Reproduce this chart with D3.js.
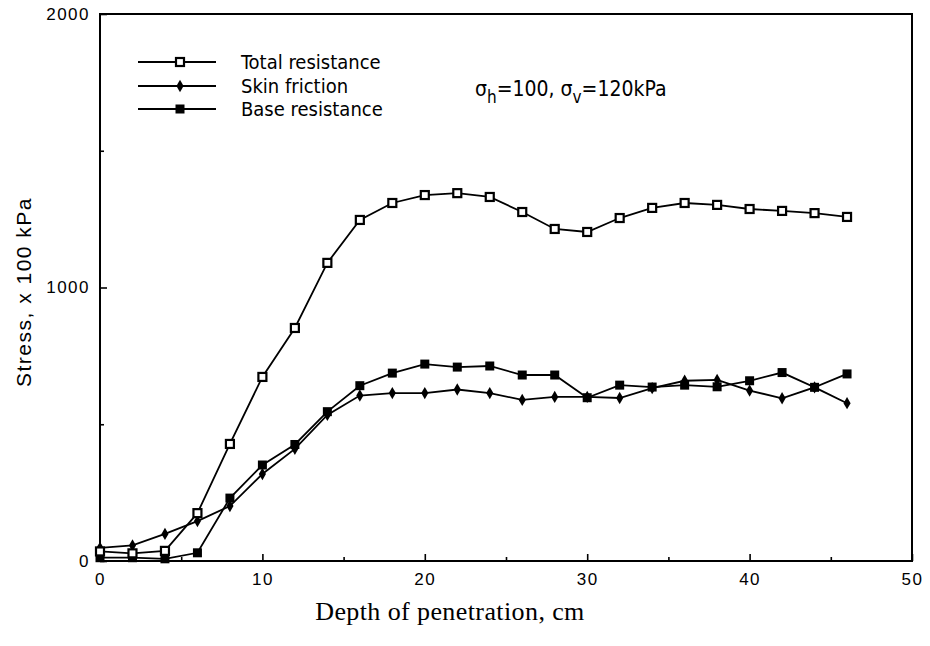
<!DOCTYPE html>
<html>
<head>
<meta charset="utf-8">
<script src="https://cdn.jsdelivr.net/npm/d3@7"></script>
<style>
  body { margin: 0; background: #fff; }
  svg { display: block; }
</style>
</head>
<body>
<div id="chart"></div>
<script>
// values
var depth = [0, 2, 4, 6, 8, 10, 12, 14, 16, 18, 20, 22, 24, 26, 28, 30, 32, 34, 36, 38, 40, 42, 44, 46];
var totalRes = [35, 28, 37, 175, 428, 673, 852, 1090, 1247, 1309, 1338, 1345, 1331, 1276, 1214, 1203, 1254, 1291, 1309, 1302, 1287, 1280, 1272, 1258];
var skinFric = [48, 57, 99, 146, 201, 318, 410, 534, 605, 614, 614, 627, 614, 589, 600, 600, 596, 632, 659, 662, 623, 595, 635, 577];
var baseRes = [12, 12, 8, 30, 230, 351, 426, 546, 641, 687, 720, 709, 713, 680, 680, 597, 643, 636, 643, 637, 659, 689, 635, 684];

var seriesNames = ['Total resistance', 'Skin friction', 'Base resistance'];
var xTicks = [0, 10, 20, 30, 40, 50];
var xMinor = [5, 15, 25, 35, 45];
var yTicks = [0, 1000, 2000];
var yMinor = [500, 1500];

var W = 930, H = 646;
var plotL = 100, plotR = 912, plotT = 14, plotB = 561;

var svg = d3.select('#chart').append('svg')
  .attr('width', W)
  .attr('height', H);

var x = d3.scaleLinear().domain([0, 50]).range([plotL, plotR]);
var y = d3.scaleLinear().domain([0, 2000]).range([plotB, plotT]);

var sans = 'Liberation Sans, Arial, Helvetica, sans-serif';
var narrow = 'Liberation Sans Narrow, DejaVu Sans Condensed, Arial Narrow, sans-serif';

// axes, ticks pointing inward
svg.append('g')
  .attr('transform', 'translate(0,' + plotB + ')')
  .call(d3.axisBottom(x).tickValues(xTicks).tickSizeInner(-7).tickSizeOuter(0).tickPadding(12).tickFormat(d3.format('d')));
svg.append('g')
  .attr('transform', 'translate(0,' + plotB + ')')
  .call(d3.axisBottom(x).tickValues(xMinor).tickSizeInner(-4).tickSizeOuter(0).tickFormat(''));

svg.append('g')
  .attr('transform', 'translate(' + plotL + ',0)')
  .call(d3.axisLeft(y).tickValues(yTicks).tickSizeInner(-7).tickSizeOuter(0).tickPadding(10).tickFormat(d3.format('d')));
svg.append('g')
  .attr('transform', 'translate(' + plotL + ',0)')
  .call(d3.axisLeft(y).tickValues(yMinor).tickSizeInner(-4).tickSizeOuter(0).tickFormat(''));

svg.selectAll('.domain').remove();
svg.selectAll('.tick line').attr('stroke', '#000').attr('stroke-width', 1.6);
svg.selectAll('.tick text')
  .attr('fill', '#000')
  .style('font-family', sans)
  .style('font-size', '17px')
  .style('letter-spacing', '1.5px');

// frame
svg.append('rect')
  .attr('x', plotL)
  .attr('y', plotT)
  .attr('width', plotR - plotL)
  .attr('height', plotB - plotT)
  .attr('fill', 'none')
  .attr('stroke', '#000')
  .attr('stroke-width', 2);

// lines
var line = d3.line()
  .x(function(d) { return x(d[0]); })
  .y(function(d) { return y(d[1]); });

var allSeries = [totalRes, skinFric, baseRes];
allSeries.forEach(function(vals) {
  var pts = depth.map(function(d, i) { return [d, vals[i]]; });
  svg.append('path')
    .datum(pts)
    .attr('d', line)
    .attr('fill', 'none')
    .attr('stroke', '#000')
    .attr('stroke-width', 1.8);
});

// markers
function drawMarker(g, kind, cx, cy) {
  if (kind === 0) {
    g.append('rect')
      .attr('x', cx - 4).attr('y', cy - 4)
      .attr('width', 8).attr('height', 8)
      .attr('fill', '#fff')
      .attr('stroke', '#000')
      .attr('stroke-width', 2.2);
  } else if (kind === 1) {
    g.append('path')
      .attr('d', d3.symbol().type(d3.symbolDiamond).size(44)())
      .attr('transform', 'translate(' + cx + ',' + cy + ')')
      .attr('fill', '#000');
  } else {
    g.append('rect')
      .attr('x', cx - 4.5).attr('y', cy - 4.5)
      .attr('width', 9).attr('height', 9)
      .attr('fill', '#000');
  }
}

var markerLayer = svg.append('g');
// base first, then skin, then total on top
[2, 1, 0].forEach(function(k) {
  var vals = allSeries[k];
  depth.forEach(function(d, i) {
    drawMarker(markerLayer, k, x(d), y(vals[i]));
  });
});

// legend
var legend = svg.append('g');
var legendY = [62, 86, 109];
seriesNames.forEach(function(name, i) {
  legend.append('line')
    .attr('x1', 138).attr('x2', 216)
    .attr('y1', legendY[i]).attr('y2', legendY[i])
    .attr('stroke', '#000')
    .attr('stroke-width', 1.8);
  drawMarker(legend, i, 180, legendY[i]);
  legend.append('text')
    .attr('x', 241)
    .attr('y', legendY[i] + 7)
    .style('font-family', narrow)
    .style('font-size', '20px')
    .attr('fill', '#000')
    .text(name);
});

// stress state annotation
var note = svg.append('text')
  .attr('x', 475)
  .attr('y', 96)
  .style('font-family', narrow)
  .style('font-size', '21px')
  .attr('fill', '#000');
note.append('tspan').text('σ');
note.append('tspan').attr('dy', 7).style('font-size', '17px').text('h');
note.append('tspan').attr('dy', -7).text('=100, σ');
note.append('tspan').attr('dy', 7).style('font-size', '17px').text('v');
note.append('tspan').attr('dy', -7).text('=120kPa');

// axis titles
svg.append('text')
  .attr('x', 450)
  .attr('y', 620)
  .attr('text-anchor', 'middle')
  .style('font-family', 'Liberation Serif, Times New Roman, serif')
  .style('font-size', '26px')
  .style('letter-spacing', '0.4px')
  .attr('fill', '#000')
  .text('Depth of penetration, cm');

svg.append('text')
  .attr('transform', 'translate(31,292) rotate(-90)')
  .attr('text-anchor', 'middle')
  .style('font-family', sans)
  .style('font-size', '21px')
  .style('letter-spacing', '1.5px')
  .attr('fill', '#000')
  .text('Stress, x 100 kPa');
</script>
</body>
</html>
